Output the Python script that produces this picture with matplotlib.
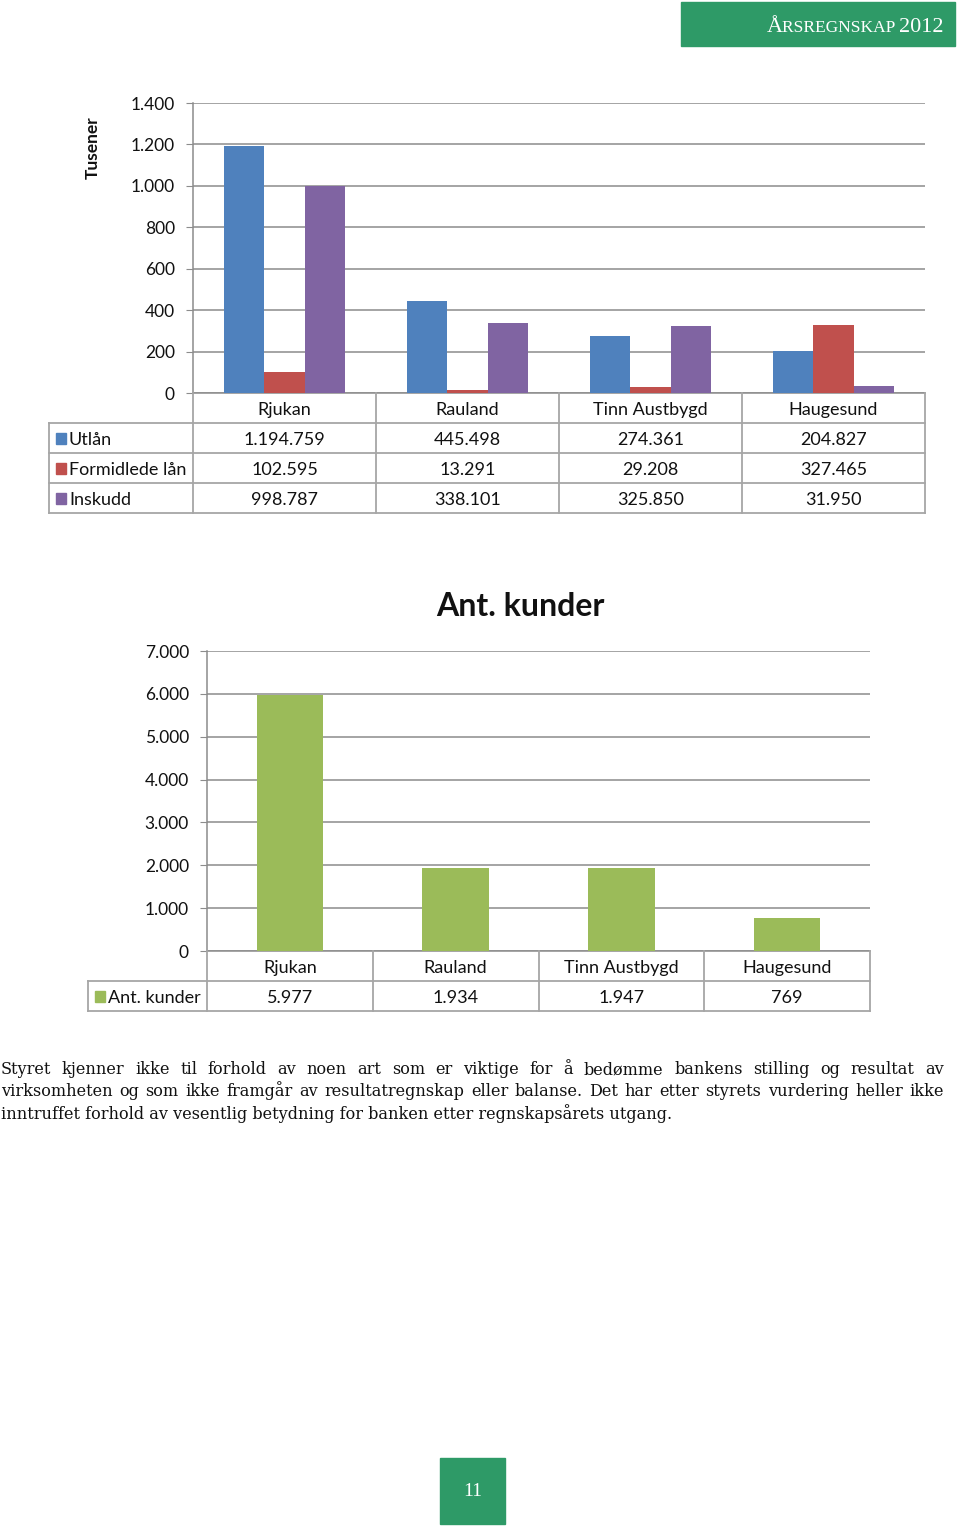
import numpy as np
import matplotlib
matplotlib.use("Agg")
import matplotlib.pyplot as plt
from matplotlib.transforms import Affine2D
from matplotlib.patches import Rectangle
from matplotlib.lines import Line2D

W, H = 960, 1526

# --- data ---
places = ["Rjukan", "Rauland", "Tinn Austbygd", "Haugesund"]
utlan = [1194759, 445498, 274361, 204827]
formidlede = [102595, 13291, 29208, 327465]
inskudd = [998787, 338101, 325850, 31950]
loan_names = ["Utlån", "Formidlede lån", "Inskudd"]
loan_ticks = [0, 200, 400, 600, 800, 1000, 1200, 1400]

kunder = [5977, 1934, 1947, 769]
kunder_ticks = [0, 1000, 2000, 3000, 4000, 5000, 6000, 7000]

para_lines = [
    "Styret kjenner ikke til forhold av noen art som er viktige for å bedømme bankens stilling og resultat av",
    "virksomheten og som ikke framgår av resultatregnskap eller balanse.  Det har etter styrets vurdering heller ikke",
    "inntruffet forhold av vesentlig betydning for banken etter regnskapsårets utgang.",
]

loan_colors = ["#4F81BD", "#C0504D", "#8064A2"]
kunder_color = "#9BBB59"
green = "#2E9A67"
gray = "#8C8C8C"
tgray = "#A6A6A6"
txt = "#111111"
font = "Lato"

plt.rcParams["font.family"] = [font, "DejaVu Sans"]


def nor(v):
    return f"{v:,}".replace(",", ".")


fig = plt.figure(figsize=(W / 100, H / 100), dpi=100)
px = Affine2D().scale(1, -1).translate(0, H)  # pixel coords from top-left


def add_ax(l, t, r, b):
    return fig.add_axes([l / W, 1 - b / H, (r - l) / W, (b - t) / H])


def hline(x0, x1, y, color=tgray, lw=1.3):
    fig.add_artist(Line2D([x0, x1], [y, y], transform=px, color=color, lw=lw))


def vline(x, y0, y1, color=tgray, lw=1.3):
    fig.add_artist(Line2D([x, x], [y0, y1], transform=px, color=color, lw=lw))


def style_axis(ax, ticks):
    ax.set_yticks(ticks)
    ax.set_yticklabels([nor(t) for t in ticks])
    ax.set_ylim(ticks[0], ticks[-1])
    ax.set_xlim(-0.5, len(places) - 0.5)
    ax.set_xticks([])
    ax.yaxis.grid(True, color=gray, lw=1.1)
    ax.set_axisbelow(True)
    for s in ["top", "right"]:
        ax.spines[s].set_visible(False)
    for s in ["left", "bottom"]:
        ax.spines[s].set_color(gray)
        ax.spines[s].set_linewidth(1.1)
    ax.tick_params(axis="y", length=5, color=gray, pad=8, labelsize=12.5, labelcolor=txt)


def draw_table(ax, rows, names, colors, left, row_h):
    n = len(places)
    edges = ax.transData.transform(np.c_[np.arange(n + 1) - 0.5, np.zeros(n + 1)])[:, 0]
    top = H - ax.transData.transform((0, ax.get_ylim()[0]))[1]
    bottom = top + row_h * (len(rows) + 1)
    for e in edges:
        vline(e, top, bottom)
    vline(left, top + row_h, bottom)
    for k in range(1, len(rows) + 2):
        hline(left, edges[-1], top + row_h * k)
    for i, p in enumerate(places):
        fig.text((edges[i] + edges[i + 1]) / 2, top + row_h / 2 + 2, p, transform=px,
                 ha="center", va="center", fontsize=13, color=txt)
    for r, (vals, name, col) in enumerate(zip(rows, names, colors)):
        yc = top + row_h * (r + 1.5) + 2
        fig.add_artist(Rectangle((left + 7, yc - 7), 10, 11, transform=px, color=col))
        fig.text(left + 20, yc, name, transform=px, ha="left", va="center", fontsize=13, color=txt)
        for i, v in enumerate(vals):
            fig.text((edges[i] + edges[i + 1]) / 2, yc, nor(v), transform=px,
                     ha="center", va="center", fontsize=13, color=txt)


# --- chart 1: loans / deposits ---
ax1 = add_ax(193, 103, 925, 393)
x = np.arange(len(places))
w = 0.221
for i, (vals, col) in enumerate(zip([utlan, formidlede, inskudd], loan_colors)):
    ax1.bar(x + (i - 1) * w, np.array(vals) / 1000, w, color=col, zorder=3)
style_axis(ax1, loan_ticks)
fig.text(93, 148, "Tusener", transform=px, rotation=90, ha="center", va="center",
         fontsize=12.5, fontweight="bold", color=txt)
draw_table(ax1, [utlan, formidlede, inskudd], loan_names, loan_colors, 49, 30)

# --- chart 2: customers ---
ax2 = add_ax(207, 651, 870, 951)
ax2.bar(x, kunder, 0.4, color=kunder_color, zorder=3)
style_axis(ax2, kunder_ticks)
fig.text(520, 606, "Ant. kunder", transform=px, ha="center", va="center",
         fontsize=23, fontweight="bold", color=txt)
draw_table(ax2, [kunder], ["Ant. kunder"], [kunder_color], 88, 30)

# --- header box ---
fig.add_artist(Rectangle((681, 2), 274, 44, transform=px, color=green))
renderer = fig.canvas.get_renderer()
serif = ["Liberation Serif"]
xr = 944
for piece, size in [("2012", 16), ("RSREGNSKAP ", 12.5), ("Å", 16)]:
    t = fig.text(xr, 32, piece, transform=px, ha="right", va="baseline",
                 fontsize=size, color="white", family=serif)
    xr -= t.get_window_extent(renderer).width

# --- paragraph ---
pfont = ["DejaVu Serif"]
probe = fig.text(0, 0, para_lines[2], fontsize=12, family=pfont)
size = 12 * 669 / probe.get_window_extent(renderer).width
probe.remove()
for li, line in enumerate(para_lines):
    yb = 1074 + li * 22.5
    if li == len(para_lines) - 1:
        fig.text(1, yb, line, transform=px, ha="left", va="baseline",
                 fontsize=size, family=pfont, color=txt)
        continue
    words = line.split()
    arts = [fig.text(0, yb, wd, transform=px, ha="left", va="baseline",
                     fontsize=size, family=pfont, color=txt) for wd in words]
    widths = [a.get_window_extent(renderer).width for a in arts]
    gap = (944 - 1 - sum(widths)) / (len(words) - 1)
    xc = 1
    for a, wd in zip(arts, widths):
        a.set_x(xc)
        xc += wd + gap

# --- page number ---
fig.add_artist(Rectangle((440, 1458), 65, 66, transform=px, color=green))
fig.text(472.5, 1492, "11", transform=px, ha="center", va="center",
         fontsize=14, color="white", family=serif)

fig.savefig("out.png", dpi=100)
